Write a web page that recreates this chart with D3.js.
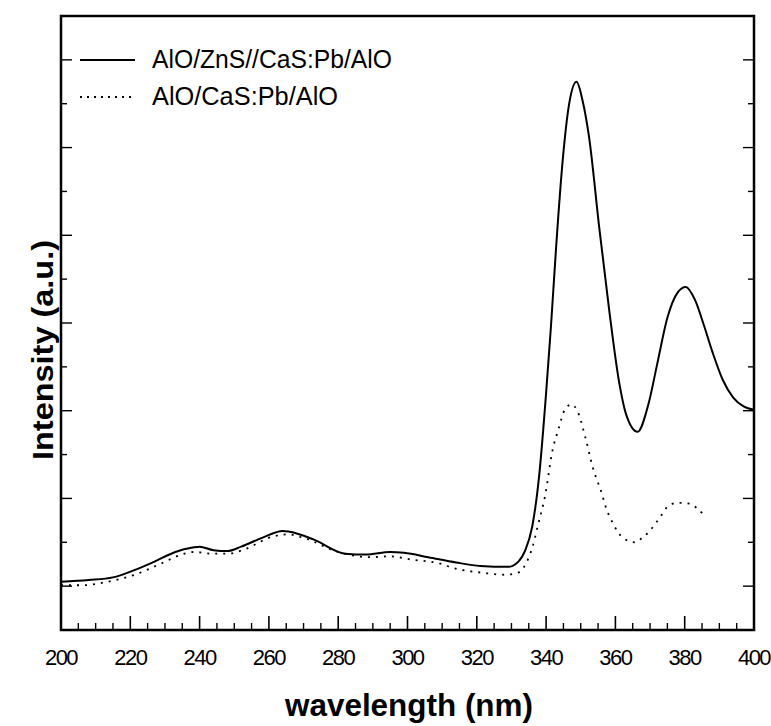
<!DOCTYPE html>
<html>
<head>
<meta charset="utf-8">
<script src="https://cdn.jsdelivr.net/npm/d3@7"></script>
<style>
  body { margin: 0; background: #fff; }
  text { font-family: "Liberation Sans", Arial, sans-serif; fill: #000; }
</style>
</head>
<body>
<div id="chart"></div>
<script>
// solid: AlO/ZnS//CaS:Pb/AlO
const wavelengthA = [200, 208, 215, 221, 227, 233, 238, 240, 244, 248, 252, 258, 264, 266, 273, 282, 288, 295, 299, 306,
  314, 321, 329, 332, 334, 336, 338, 340, 341.4, 342.9, 344.8, 346.7, 348.8, 350.5, 352.4, 355.3, 358.2, 361.1, 363, 366.4,
  369.5, 372, 375, 378, 380.3, 383, 385.5, 388, 391, 394, 397, 400];
const intensityA = [0.05, 0.07, 0.10, 0.18, 0.28, 0.39, 0.44, 0.45, 0.41, 0.40, 0.45, 0.55, 0.63, 0.62, 0.53, 0.37, 0.36, 0.39, 0.38, 0.33,
  0.27, 0.23, 0.22, 0.28, 0.41, 0.68, 1.26, 2.20, 2.96, 3.87, 4.86, 5.51, 5.75, 5.54, 5.12, 4.10, 3.15, 2.32, 1.97, 1.76,
  2.07, 2.52, 3.06, 3.35, 3.41, 3.26, 2.98, 2.67, 2.35, 2.15, 2.05, 2.01];

// dotted: AlO/CaS:Pb/AlO
const wavelengthB = [200, 206, 213.5, 221.3, 229, 234.8, 238.6, 243.4, 248.2, 253, 260.7, 265.5, 270, 280, 289, 294.8, 301.5, 309.2, 312.1, 322.2,
  328, 332.3, 334.2, 336.1, 337.5, 339.8, 341.8, 343.5, 345.5, 347.3, 349, 351.3, 353.5, 356.2, 357, 359.5, 362.2, 365.7, 367.7, 369.7,
  371.5, 373.5, 374.9, 378, 381.3, 383.5, 385.3];
const intensityB = [0.01, 0.01, 0.05, 0.13, 0.26, 0.36, 0.39, 0.37, 0.37, 0.42, 0.56, 0.59, 0.55, 0.39, 0.33, 0.34, 0.30, 0.26, 0.22, 0.15,
  0.13, 0.16, 0.26, 0.45, 0.67, 1.05, 1.54, 1.78, 2.02, 2.07, 2.00, 1.70, 1.35, 1.04, 0.93, 0.70, 0.55, 0.50, 0.55, 0.62,
  0.71, 0.82, 0.90, 0.95, 0.94, 0.89, 0.82];

const seriesNames = ["AlO/ZnS//CaS:Pb/AlO", "AlO/CaS:Pb/AlO"];
const xTickValues = [200, 220, 240, 260, 280, 300, 320, 340, 360, 380, 400];

const W = 771, H = 726;
const margin = { left: 61, right: 754, top: 16, bottom: 630 };

const x = d3.scaleLinear([200, 400], [margin.left, margin.right]);
const y = d3.scaleLinear([-0.5, 6.5], [margin.bottom, margin.top]);

const svg = d3.select("#chart")
  .append("svg")
  .attr("width", W)
  .attr("height", H);

const toPts = (xs, ys) => xs.map((d, i) => [d, ys[i]]);
const line = d3.line()
  .x((d) => x(d[0]))
  .y((d) => y(d[1]))
  .curve(d3.curveMonotoneX);

// ticks (inward), major + minor
const xMinor = d3.range(200, 401, 5).filter((d) => d % 20 != 0);
const yMajor = d3.range(0, 7, 1);
const yMinor = d3.range(-0.5, 6.6, 1);

const tickG = svg.append("g").attr("stroke", "#000");
tickG.append("g").selectAll("line")
  .data(xTickValues)
  .join("line")
  .attr("x1", (d) => x(d)).attr("x2", (d) => x(d))
  .attr("y1", margin.bottom).attr("y2", margin.bottom - 14)
  .attr("stroke-width", 1.6);
tickG.append("g").selectAll("line")
  .data(xMinor)
  .join("line")
  .attr("x1", (d) => x(d)).attr("x2", (d) => x(d))
  .attr("y1", margin.bottom).attr("y2", margin.bottom - 7)
  .attr("stroke-width", 1.4);

[margin.left, margin.right].forEach((px) => {
  const dir = px == margin.left ? 1 : -1;
  tickG.append("g").selectAll("line")
    .data(yMajor)
    .join("line")
    .attr("x1", px).attr("x2", px + dir * 11)
    .attr("y1", (d) => y(d)).attr("y2", (d) => y(d))
    .attr("stroke-width", 1.4);
  tickG.append("g").selectAll("line")
    .data(yMinor)
    .join("line")
    .attr("x1", px).attr("x2", px + dir * 6)
    .attr("y1", (d) => y(d)).attr("y2", (d) => y(d))
    .attr("stroke-width", 1.4);
});

// frame
svg.append("rect")
  .attr("x", margin.left).attr("y", margin.top)
  .attr("width", margin.right - margin.left).attr("height", margin.bottom - margin.top)
  .attr("fill", "none")
  .attr("stroke", "#000")
  .attr("stroke-width", 2.5);

// curves
svg.append("path")
  .datum(toPts(wavelengthA, intensityA))
  .attr("d", line)
  .attr("fill", "none")
  .attr("stroke", "#000")
  .attr("stroke-width", 2);

svg.append("path")
  .datum(toPts(wavelengthB, intensityB))
  .attr("d", line)
  .attr("fill", "none")
  .attr("stroke", "#000")
  .attr("stroke-width", 1.8)
  .attr("stroke-dasharray", "2,6");

// x tick labels
svg.append("g").selectAll("text")
  .data(xTickValues)
  .join("text")
  .attr("x", (d) => x(d))
  .attr("y", 665)
  .attr("text-anchor", "middle")
  .attr("font-size", 22)
  .attr("letter-spacing", -1.5)
  .text((d) => d);

// axis titles
svg.append("text")
  .attr("x", 285).attr("y", 716)
  .attr("font-size", 31)
  .attr("font-weight", "bold")
  .attr("textLength", 248)
  .attr("lengthAdjust", "spacingAndGlyphs")
  .text("wavelength (nm)");

svg.append("text")
  .attr("transform", "translate(53,460) rotate(-90)")
  .attr("font-size", 30)
  .attr("font-weight", "bold")
  .attr("textLength", 220)
  .attr("lengthAdjust", "spacingAndGlyphs")
  .text("Intensity (a.u.)");

// legend
const legend = svg.append("g");
const legendRows = [
  { name: seriesNames[0], ly: 60, dash: null, w: 2, len: 240 },
  { name: seriesNames[1], ly: 97, dash: "2,5", w: 1.8, len: 186 },
];
legendRows.forEach((r) => {
  legend.append("line")
    .attr("x1", 80).attr("x2", 135)
    .attr("y1", r.ly).attr("y2", r.ly)
    .attr("stroke", "#000")
    .attr("stroke-width", r.w)
    .attr("stroke-dasharray", r.dash);
  legend.append("text")
    .attr("x", 152).attr("y", r.ly + 8)
    .attr("font-size", 25)
    .attr("textLength", r.len)
    .attr("lengthAdjust", "spacingAndGlyphs")
    .text(r.name);
});
</script>
</body>
</html>
